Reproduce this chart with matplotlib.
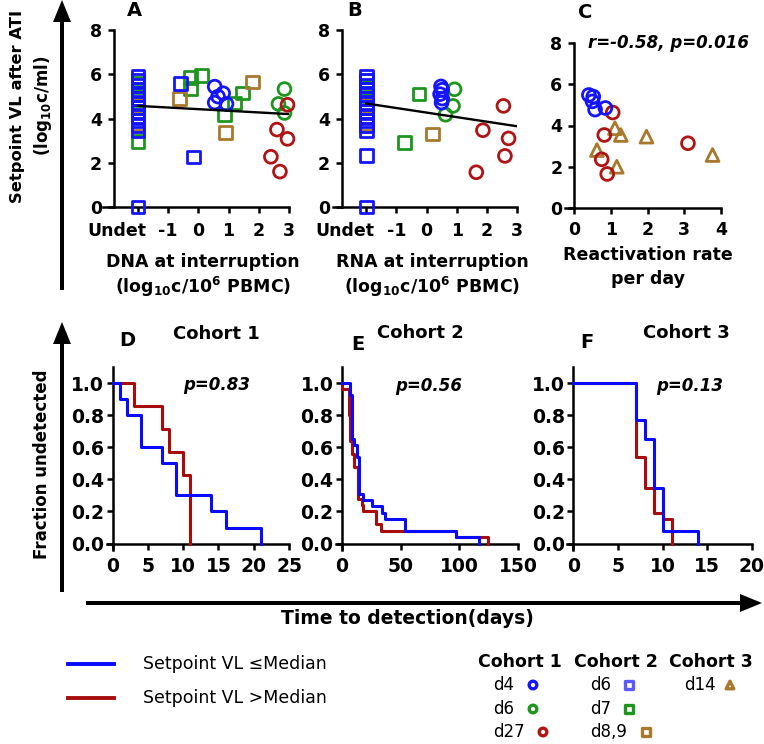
import matplotlib
matplotlib.use('Agg')
import matplotlib.pyplot as plt
from matplotlib.patches import FancyArrow
from matplotlib.transforms import ScaledTranslation

plt.rcParams['font.family'] = ['DejaVu Sans']
plt.rcParams['font.weight'] = 'bold'
plt.rcParams['mathtext.fontset'] = 'custom'
plt.rcParams['mathtext.rm'] = 'DejaVu Sans:bold'
plt.rcParams['mathtext.it'] = 'DejaVu Sans:bold:italic'
plt.rcParams['mathtext.bf'] = 'DejaVu Sans:bold'

BLUE = '#1414ff'
GREEN = '#1e961e'
RED = '#b01414'
BROWN = '#a8782c'
KM_BLUE = '#0a0aff'
KM_RED = '#a80c0c'

# ---------------- data ----------------
undet_blue = [5.9, 5.7, 5.5, 5.3, 5.1, 4.9, 4.7, 4.5, 4.3, 4.1, 3.9, 3.7, 3.45, 0.0]

# Panel A: DNA at interruption (-2 = Undet)
A_d4_x = [0.54, 0.82, 0.54, 0.93, 0.65]
A_d4_y = [5.44, 5.14, 4.72, 4.66, 4.99]
A_d6c1_x = [2.85, 2.65, 2.85]
A_d6c1_y = [5.33, 4.66, 4.25]
A_d27_x = [2.95, 2.6, 2.95, 2.4, 2.7]
A_d27_y = [4.62, 3.5, 3.08, 2.27, 1.6]
A_d6c2_x = [-2] * 14 + [-0.6, -0.17]
A_d6c2_y = undet_blue + [5.57, 2.26]
A_d7_x = [-2, -2, -2, -2, -0.25, 0.1, -0.25, 0.87, 1.2, 1.46]
A_d7_y = [5.6, 5.2, 4.85, 2.95, 5.87, 5.93, 5.37, 4.16, 4.7, 5.15]
A_d89_x = [-2, -2, -2, -0.63, 1.8, 0.9]
A_d89_y = [4.6, 4.1, 3.75, 4.9, 5.65, 3.35]
A_fit_x = [-2, 3]
A_fit_y = [4.57, 4.2]

# Panel B: RNA at interruption (-2 = Undet)
B_d4_x = [0.48, 0.52, 0.45, 0.52, 0.5]
B_d4_y = [5.45, 5.3, 5.1, 4.9, 4.72]
B_d6c1_x = [0.93, 0.88, 0.63]
B_d6c1_y = [5.32, 4.57, 4.17]
B_d27_x = [2.55, 1.87, 2.72, 2.6, 1.65]
B_d27_y = [4.57, 3.47, 3.1, 2.31, 1.57]
B_d6c2_x = [-2] * 15
B_d6c2_y = undet_blue + [2.31]
B_d7_x = [-2, -2, -2, -2, -0.72, -0.25]
B_d7_y = [5.7, 5.4, 4.95, 4.5, 2.93, 5.11]
B_d89_x = [-2, -2, -2, -2, 0.19]
B_d89_y = [5.1, 4.6, 4.1, 3.75, 3.3]
B_fit_x = [-2, 3]
B_fit_y = [4.68, 3.65]

# Panel C: reactivation rate per day
C_d4_x = [0.4, 0.52, 0.5, 0.57, 0.85]
C_d4_y = [5.48, 5.4, 5.17, 4.77, 4.85]
C_d27_x = [1.05, 0.82, 0.75, 0.9, 3.1]
C_d27_y = [4.63, 3.54, 2.36, 1.65, 3.14]
C_d14_x = [1.11, 1.27, 1.97, 0.62, 1.16, 3.77]
C_d14_y = [3.87, 3.54, 3.46, 2.81, 2.0, 2.57]

top_xticks = [-2, -1, 0, 1, 2, 3]
top_xticklabels = ['Undet', '-1', '0', '1', '2', '3']
top_yticks = [0, 2, 4, 6, 8]
C_xticks = [0, 1, 2, 3, 4]

# Kaplan-Meier curves (time, fraction undetected)
D_blue_t = [0, 1, 2, 4, 7, 9, 14, 16, 21]
D_blue_s = [1.0, 0.9, 0.8, 0.6, 0.5, 0.3, 0.2, 0.1, 0.0]
D_red_t = [0, 3, 7, 8, 10, 11]
D_red_s = [1.0, 0.857, 0.714, 0.571, 0.429, 0.0]

E_blue_t = [0, 6.5, 8.5, 10.5, 12.7, 15, 17.8, 25.5, 34, 36.8, 53.8, 97, 117]
E_blue_s = [1.0, 0.923, 0.654, 0.615, 0.538, 0.308, 0.269, 0.231, 0.192, 0.154, 0.077, 0.038, 0.0]
E_red_t = [0, 0.5, 5.7, 7, 8.5, 10, 14, 17, 18.4, 29, 33, 97, 124.5]
E_red_s = [1.0, 0.96, 0.8, 0.64, 0.56, 0.48, 0.28, 0.24, 0.2, 0.12, 0.08, 0.04, 0.0]

F_blue_t = [0, 7, 8, 9, 10, 14]
F_blue_s = [1.0, 0.769, 0.654, 0.346, 0.077, 0.0]
F_red_t = [0, 7, 8, 9, 10, 11]
F_red_s = [1.0, 0.538, 0.346, 0.192, 0.154, 0.0]

km_yticks = [0, 0.2, 0.4, 0.6, 0.8, 1.0]
D_xticks = [0, 5, 10, 15, 20, 25]
E_xticks = [0, 50, 100, 150]
F_xticks = [0, 5, 10, 15, 20]

# ---------------- figure ----------------
W, H = 764, 744
fig = plt.figure(figsize=(W / 100, H / 100), dpi=100)
ov = fig.add_axes([0, 0, 1, 1])
ov.set_xlim(0, W)
ov.set_ylim(H, 0)
ov.axis('off')


def add_ax(l, t, r, b):
    return fig.add_axes([l / W, 1 - b / H, (r - l) / W, (b - t) / H])


def style(ax, fs, xpad, ypad):
    for s in ['top', 'right']:
        ax.spines[s].set_visible(False)
    for s in ['left', 'bottom']:
        ax.spines[s].set_linewidth(1.8)
    ax.tick_params(direction='out', length=4.5, width=1.8, labelsize=fs)
    ax.tick_params(axis='x', pad=xpad)
    ax.tick_params(axis='y', pad=ypad)
    ax.patch.set_visible(False)


MS = 85
LW = 2.0


def pts(ax, x, y, marker, color):
    ax.scatter(x, y, s=MS, marker=marker, facecolors='none', edgecolors=color,
               linewidths=LW, clip_on=False, zorder=3)


# Panel A
axA = add_ax(103, 30, 289, 207)
pts(axA, A_d7_x, A_d7_y, 's', GREEN)
pts(axA, A_d89_x, A_d89_y, 's', BROWN)
pts(axA, A_d6c2_x, A_d6c2_y, 's', BLUE)
pts(axA, A_d6c1_x, A_d6c1_y, 'o', GREEN)
pts(axA, A_d27_x, A_d27_y, 'o', RED)
pts(axA, A_d4_x, A_d4_y, 'o', BLUE)
axA.plot(A_fit_x, A_fit_y, color='black', lw=1.7, zorder=4)

# Panel B
axB = add_ax(333, 30, 517, 207)
pts(axB, B_d7_x, B_d7_y, 's', GREEN)
pts(axB, B_d89_x, B_d89_y, 's', BROWN)
pts(axB, B_d6c2_x, B_d6c2_y, 's', BLUE)
pts(axB, B_d6c1_x, B_d6c1_y, 'o', GREEN)
pts(axB, B_d27_x, B_d27_y, 'o', RED)
pts(axB, B_d4_x, B_d4_y, 'o', BLUE)
axB.plot(B_fit_x, B_fit_y, color='black', lw=1.7, zorder=4)

for ax, lo in [(axA, -3.16), (axB, -3.1)]:
    ax.set_xlim(lo, 3)
    ax.set_ylim(0, 8)
    ax.spines['left'].set_position(('data', -2.8))
    ax.set_xticks(top_xticks)
    ax.set_xticklabels(top_xticklabels)
    ax.set_yticks(top_yticks)
    style(ax, 12.5, 6.5, 4)
    lab = ax.get_xticklabels()[0]
    lab.set_horizontalalignment('right')
    lab.set_transform(lab.get_transform() + ScaledTranslation(0.08, 0, fig.dpi_scale_trans))

# Panel C
axC = add_ax(565, 43, 721, 208)
pts(axC, C_d14_x, C_d14_y, '^', BROWN)
pts(axC, C_d27_x, C_d27_y, 'o', RED)
pts(axC, C_d4_x, C_d4_y, 'o', BLUE)
axC.set_xlim(-0.25, 4)
axC.set_ylim(0, 8)
axC.spines['left'].set_position(('data', 0))
axC.set_xticks(C_xticks)
axC.set_yticks(top_yticks)
style(axC, 12.5, 5, 4)

# KM panels
for (l, r, lo, hi, ticks, bt, bs, rt, rs) in [
        (107, 289, -0.8, 25, D_xticks, D_blue_t, D_blue_s, D_red_t, D_red_s),
        (336, 518, -5, 150, E_xticks, E_blue_t, E_blue_s, E_red_t, E_red_s),
        (567, 752, -0.7, 20, F_xticks, F_blue_t, F_blue_s, F_red_t, F_red_s)]:
    ax = add_ax(l, 367, r, 550)
    ax.step(rt, rs, where='post', color=KM_RED, lw=2.2, zorder=3)
    ax.step(bt, bs, where='post', color=KM_BLUE, lw=2.2, zorder=3)
    ax.set_xlim(lo, hi)
    ax.set_ylim(-0.04, 1.1)
    ax.spines['left'].set_position(('data', 0))
    ax.spines['bottom'].set_position(('data', 0))
    ax.set_xticks(ticks)
    ax.set_yticks(km_yticks)
    ax.set_yticklabels(['%.1f' % v for v in km_yticks])
    style(ax, 13.5, 5, 1.5)

# ---------------- overlay texts and arrows ----------------
def T(x, y, s, size, **kw):
    ov.text(x, y, s, fontsize=size, ha=kw.pop('ha', 'center'), va=kw.pop('va', 'center'), **kw)


for (x, y, s) in [(134, 11, 'A'), (355, 11, 'B'), (585, 12, 'C'),
                  (127, 341, 'D'), (358, 344, 'E'), (587, 343, 'F')]:
    T(x, y, s, 14)
for (x, y, s) in [(216, 334, 'Cohort 1'), (420, 333, 'Cohort 2'), (686, 333, 'Cohort 3')]:
    T(x, y, s, 13)
for (x, y, s) in [(217, 385, 'p=0.83'), (429, 386, 'p=0.56'), (690, 386, 'p=0.13'),
                  (668, 43, 'r=-0.58, p=0.016')]:
    T(x, y, s, 12, style='italic')

T(203, 262, 'DNA at interruption', 12.5)
T(203, 287, r'(log$_{10}$c/10$^{6}$ PBMC)', 12.5)
T(432, 262, 'RNA at interruption', 12.5)
T(432, 287, r'(log$_{10}$c/10$^{6}$ PBMC)', 12.5)
T(648, 255, 'Reactivation rate', 12.5)
T(648, 279, 'per day', 12.5)
T(407, 619, 'Time to detection(days)', 13.5)

T(18, 106, 'Setpoint VL after ATI', 11.8, rotation=90)
T(43, 106, r'(log$_{10}$c/ml)', 12, rotation=90)
T(42, 464, 'Fraction undetected', 12, rotation=90)

arrow_kw = dict(width=4, head_width=18, head_length=22, length_includes_head=True,
                color='black', lw=0)
ov.add_patch(FancyArrow(62, 290, 0, -290, **arrow_kw))
ov.add_patch(FancyArrow(62, 592, 0, -270, **arrow_kw))
ov.add_patch(FancyArrow(86, 603, 676, 0, **arrow_kw))

# legend (lines)
ov.plot([68, 114], [664, 664], color=KM_BLUE, lw=2.8)
ov.plot([68, 114], [698, 698], color=KM_RED, lw=2.8)
T(143, 664, 'Setpoint VL \u2264Median', 12.5, ha='left', fontweight='normal')
T(143, 698, 'Setpoint VL >Median', 12.5, ha='left', fontweight='normal')

# legend (markers)
T(478, 662, 'Cohort 1', 12.5, ha='left')
T(574, 662, 'Cohort 2', 12.5, ha='left')
T(669, 662, 'Cohort 3', 12.5, ha='left')
leg_items = [(493, 685, 'd4', 533, 'o', BLUE), (493, 709, 'd6', 533, 'o', GREEN),
             (493, 732, 'd27', 543, 'o', RED), (590, 685, 'd6', 629, 's', '#5a5aff'),
             (590, 709, 'd7', 629, 's', GREEN), (590, 732, 'd8,9', 646, 's', BROWN),
             (684, 685, 'd14', 730, '^', BROWN)]
for (x, y, s, mx, mk, c) in leg_items:
    T(x, y, s, 12, ha='left', fontweight='normal')
    ov.scatter([mx], [y], s=30, marker=mk, facecolors='none', edgecolors=c, linewidths=2.4)

fig.savefig('out.png', dpi=100)
